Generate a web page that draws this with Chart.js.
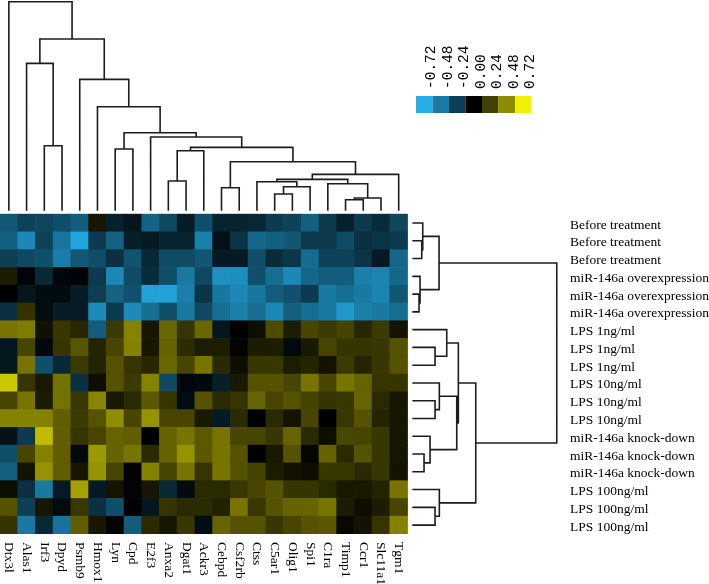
<!DOCTYPE html>
<html>
<head>
<meta charset="utf-8">
<script src="https://cdn.jsdelivr.net/npm/chart.js@4.4.1/dist/chart.umd.min.js"></script>
<style>
  html, body { margin: 0; padding: 0; background: #fff; }
  #wrap { width: 709px; height: 584px; }
</style>
</head>
<body>
<div id="wrap"><canvas id="heat"></canvas></div>
<script>
const genes = ['Dtx3l', 'Alas1', 'Irf3', 'Dpyd', 'Psmb9', 'Hmox1', 'Lyn', 'Cpd', 'E2f3', 'Anxa2', 'Dgat1', 'Ackr3',
  'Cebpd', 'Csf2rb', 'Ctss', 'C5ar1', 'Olig1', 'Spi1', 'C1ra', 'Timp1', 'Ccr1', 'Slc11a1', 'Tgm1'];
const samples = ['Before treatment', 'Before treatment', 'Before treatment',
  'miR-146a overexpression', 'miR-146a overexpression', 'miR-146a overexpression',
  'LPS 1ng/ml', 'LPS 1ng/ml', 'LPS 1ng/ml', 'LPS 10ng/ml', 'LPS 10ng/ml', 'LPS 10ng/ml',
  'miR-146a knock-down', 'miR-146a knock-down', 'miR-146a knock-down',
  'LPS 100ng/ml', 'LPS 100ng/ml', 'LPS 100ng/ml'];
const keyTicks = [-0.72, -0.48, -0.24, 0, 0.24, 0.48, 0.72];
const keyColors = ['#27aee6', '#1b7aa3', '#0c3f55', '#000000', '#404000', '#8c8c00', '#f0f000'];

// one row per sample, one value per gene
const values = [
  [-0.40, -0.30, -0.32, -0.36, -0.42, 0.08, -0.15, -0.10, -0.45, -0.33, -0.13, -0.36, -0.16, -0.16, -0.18, -0.27, -0.30, -0.43, -0.27, -0.15, -0.26, -0.20, -0.32],
  [-0.43, -0.62, -0.30, -0.53, -0.75, -0.27, -0.44, -0.14, -0.12, -0.16, -0.16, -0.58, -0.07, -0.24, -0.47, -0.43, -0.39, -0.26, -0.26, -0.34, -0.22, -0.24, -0.27],
  [-0.29, -0.33, -0.36, -0.57, -0.40, -0.35, -0.22, -0.38, -0.18, -0.34, -0.34, -0.39, -0.12, -0.12, -0.36, -0.20, -0.25, -0.49, -0.30, -0.30, -0.24, -0.12, -0.47],
  [0.10, -0.02, -0.18, -0.03, -0.01, -0.27, -0.62, -0.34, -0.20, -0.35, -0.55, -0.33, -0.66, -0.65, -0.36, -0.50, -0.62, -0.47, -0.42, -0.42, -0.58, -0.60, -0.47],
  [0.00, -0.10, -0.05, -0.05, -0.13, -0.28, -0.44, -0.37, -0.73, -0.73, -0.58, -0.24, -0.54, -0.62, -0.54, -0.42, -0.37, -0.27, -0.55, -0.50, -0.55, -0.60, -0.39],
  [-0.22, 0.18, -0.06, -0.13, -0.13, -0.63, -0.27, -0.63, -0.50, -0.35, -0.55, -0.33, -0.50, -0.58, -0.50, -0.62, -0.43, -0.50, -0.55, -0.69, -0.58, -0.55, -0.50],
  [0.42, 0.45, 0.06, 0.20, 0.14, -0.42, 0.21, 0.47, 0.08, 0.37, 0.19, 0.37, -0.10, 0.00, 0.05, 0.27, 0.10, 0.25, 0.21, 0.24, 0.14, 0.21, 0.07],
  [-0.11, 0.25, -0.04, 0.19, 0.31, 0.13, 0.25, 0.47, 0.08, 0.36, 0.16, 0.10, 0.10, 0.01, 0.10, 0.10, -0.04, 0.09, 0.25, 0.19, 0.19, 0.20, 0.30],
  [-0.11, 0.42, -0.36, -0.18, 0.21, 0.13, 0.30, 0.19, 0.14, 0.37, 0.25, 0.42, 0.15, 0.05, 0.20, 0.20, 0.10, 0.13, 0.07, 0.21, 0.13, 0.20, 0.30],
  [0.72, 0.19, 0.09, 0.41, -0.22, 0.05, 0.30, 0.21, 0.47, -0.33, -0.03, -0.04, -0.14, 0.09, 0.30, 0.30, 0.25, 0.42, 0.25, 0.42, 0.36, 0.19, 0.19],
  [0.25, 0.42, 0.10, 0.41, 0.20, 0.48, 0.09, 0.15, 0.32, 0.19, -0.05, 0.30, 0.15, 0.19, 0.36, 0.25, 0.30, 0.24, 0.19, 0.20, 0.36, 0.15, 0.08],
  [0.47, 0.47, 0.47, 0.34, 0.21, 0.30, 0.51, 0.25, 0.53, 0.25, 0.25, 0.09, -0.12, 0.15, 0.00, 0.15, 0.07, 0.25, 0.00, 0.20, 0.30, 0.13, 0.08],
  [-0.08, -0.27, 0.68, 0.34, 0.19, 0.25, 0.36, 0.34, 0.00, 0.36, 0.42, 0.32, 0.42, 0.25, 0.25, 0.20, 0.36, 0.15, 0.05, 0.26, 0.25, 0.20, 0.08],
  [-0.36, 0.25, 0.47, 0.34, -0.04, 0.55, 0.36, 0.42, 0.15, 0.36, 0.53, 0.32, 0.42, 0.30, 0.00, 0.09, 0.30, 0.02, 0.36, 0.15, 0.30, 0.20, 0.08],
  [-0.43, 0.07, 0.53, 0.34, 0.08, 0.53, 0.25, 0.00, 0.47, 0.25, 0.42, 0.19, 0.42, 0.30, 0.24, 0.10, 0.06, 0.05, 0.20, 0.20, 0.15, 0.20, 0.07],
  [0.05, -0.22, -0.55, -0.12, 0.58, -0.12, 0.07, -0.02, 0.08, -0.18, -0.05, 0.15, 0.15, 0.20, 0.25, 0.30, 0.19, 0.19, 0.15, 0.09, 0.09, 0.13, 0.42],
  [0.30, -0.29, 0.08, -0.05, 0.20, -0.22, -0.36, 0.00, -0.11, 0.19, 0.15, 0.15, 0.12, 0.42, 0.20, 0.30, 0.36, 0.36, 0.42, 0.10, 0.05, 0.10, 0.25],
  [0.19, -0.55, -0.18, -0.52, 0.34, 0.08, -0.02, -0.42, 0.15, 0.08, 0.20, -0.06, 0.36, 0.30, 0.30, 0.20, 0.25, 0.30, 0.32, 0.03, 0.07, 0.19, 0.47]
];

// trees, hclust style: negative = leaf number (1-based), positive = earlier merge
const colMerge = [[-3, -4], [-7, -8], [-10, -11], [-12, 3], [-13, -14], [-16, -17], [6, -18], [-15, 7],
  [-20, -21], [9, -22], [-19, 10], [8, 11], [12, -23], [5, 13], [4, 14], [-9, 15], [2, 16], [-6, 17],
  [-5, 18], [-2, 1], [20, 19], [-1, 21]];
const colHeight = [65, 61.7, 29.7, 60, 23, 16.7, 24, 29, 11, 12.7, 27, 31.4, 36.4, 49, 63.4, 73.7, 78, 104,
  131.4, 147.4, 171.7, 209];
const rowMerge = [[-2, -3], [-1, 1], [-5, -6], [-4, 3], [2, 4], [-8, -9], [-7, 6], [-11, -12], [-10, 8],
  [-14, -15], [-13, 10], [9, 11], [7, 12], [-17, -18], [-16, 14], [13, 15], [5, 16]];
const rowHeight = [9.4, 10.4, 6.7, 7.7, 26.7, 22.7, 34.4, 22.7, 27, 11.7, 17.7, 44.4, 46, 22.7, 27, 63.4, 144.4];

// colour ramp: blue - black - yellow
function cellColor(v) {
  const t = Math.min(Math.abs(v) / 0.75, 1);
  const c = v < 0 ? [34, 165, 220] : [212, 208, 0];
  return 'rgb(' + c.map(k => Math.round(k * t)).join(',') + ')';
}

// walk the merge list and return line points (null y breaks the line)
function dendroPoints(merge, height, toPoint) {
  const nodes = [];
  const pts = [];
  const place = id => id < 0 ? { p: -id - 1, h: 0 } : nodes[id - 1];
  merge.forEach(([a, b], i) => {
    const A = place(a), B = place(b), h = height[i];
    pts.push(toPoint(A.p, A.h), toPoint(A.p, h), toPoint(B.p, h), toPoint(B.p, B.h), { x: 0, y: null });
    nodes.push({ p: (A.p + B.p) / 2, h: h });
  });
  return pts;
}

const nCol = genes.length;
const colK = 11.76 / Math.max(...colHeight);
const rowK = 8.15 / Math.max(...rowHeight);
const colPts = dendroPoints(colMerge, colHeight, (p, h) => ({ x: p + 0.5, y: -(0.19 + h * colK) }));
const rowPts = dendroPoints(rowMerge, rowHeight, (p, h) => ({ x: nCol + 0.27 + h * rowK, y: p + 0.5 }));

const heatPoints = [];
const heatColors = [];
values.forEach((row, r) => row.forEach((v, c) => {
  heatPoints.push({ x: c + 0.5, y: [r, r + 1] });
  heatColors.push(cellColor(v));
}));

// gene names (rotated clockwise) and the colour key
const extras = {
  id: 'extras',
  afterDraw(chart) {
    const { ctx, chartArea, scales } = chart;
    ctx.save();
    ctx.fillStyle = '#000';
    ctx.font = '13.5px "Liberation Serif"';
    ctx.textAlign = 'left';
    ctx.textBaseline = 'middle';
    genes.forEach((g, i) => {
      ctx.save();
      ctx.translate(scales.x.getPixelForValue(i + 0.5), chartArea.bottom + 8);
      ctx.rotate(Math.PI / 2);
      ctx.fillText(g, 0, 0);
      ctx.restore();
    });

    const kx = 416, ky = 96, kw = 16.5, kh = 17;
    ctx.font = '14.5px "Liberation Mono"';
    keyTicks.forEach((t, i) => {
      ctx.fillStyle = keyColors[i];
      ctx.fillRect(kx + i * kw, ky, kw, kh);
      ctx.save();
      ctx.fillStyle = '#000';
      ctx.translate(kx + (i + 1) * kw - 1, ky - 7);
      ctx.rotate(-Math.PI / 2);
      ctx.fillText(t.toFixed(2), 0, 0);
      ctx.restore();
    });
    ctx.restore();
  }
};

new Chart(document.getElementById('heat'), {
  type: 'bar',
  data: {
    datasets: [
      {
        type: 'bar',
        data: heatPoints,
        backgroundColor: heatColors,
        borderWidth: 0,
        barPercentage: 1,
        categoryPercentage: 1
      },
      {
        type: 'line',
        data: colPts,
        borderColor: '#1c1c1c',
        borderWidth: 1.6,
        pointRadius: 0,
        spanGaps: false,
        tension: 0
      },
      {
        type: 'line',
        data: rowPts,
        borderColor: '#1c1c1c',
        borderWidth: 1.6,
        pointRadius: 0,
        spanGaps: false,
        tension: 0
      }
    ]
  },
  options: {
    responsive: true,
    maintainAspectRatio: false,
    animation: false,
    events: [],
    layout: { padding: { bottom: 50 } },
    plugins: {
      legend: { display: false },
      tooltip: { enabled: false }
    },
    scales: {
      x: { type: 'linear', min: 0, max: 31.49, offset: false, display: false },
      y: {
        type: 'linear',
        position: 'right',
        reverse: true,
        min: -12.05,
        max: 18,
        grid: { display: false, drawTicks: false },
        border: { display: false },
        afterBuildTicks: s => { s.ticks = samples.map((_, r) => ({ value: r + 0.5 })); },
        afterFit: s => { s.width = 151; s.paddingTop = 0; s.paddingBottom = 0; },
        ticks: {
          autoSkip: false,
          padding: 12,
          labelOffset: 2,
          color: '#000',
          font: { family: 'Liberation Serif', size: 13.5 },
          callback: (v, i) => samples[i]
        }
      }
    }
  },
  plugins: [extras]
});
</script>
</body>
</html>
